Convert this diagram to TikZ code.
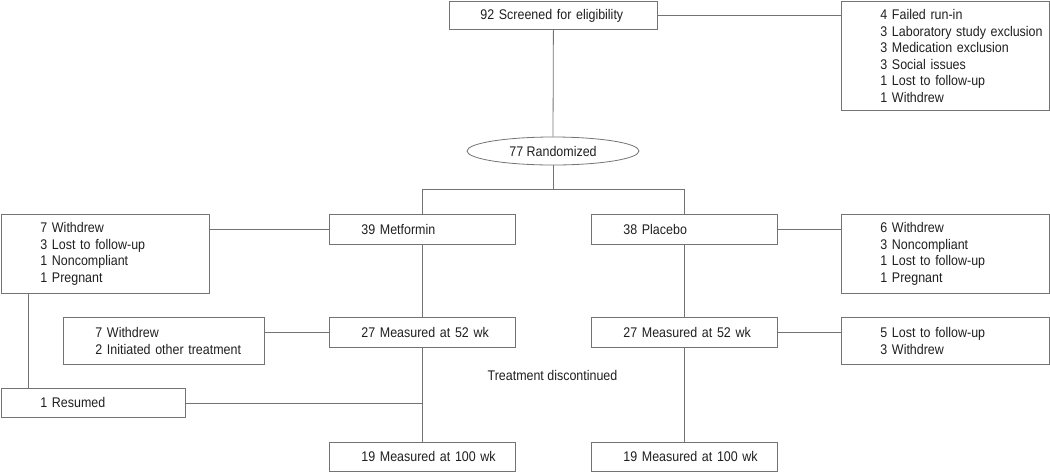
\documentclass[tikz,border=0pt]{standalone}
\usepackage{fontspec}
\setmainfont{Liberation Sans}[FakeStretch=0.89]
\usetikzlibrary{shapes.geometric}
\definecolor{lc}{gray}{0.45}
\definecolor{tc}{gray}{0.12}
\tikzset{
  base/.style={draw=lc, line width=0.8pt, text=tc, font={\fontsize{14}{16.5}\selectfont}},
  box/.style args={#1/#2/#3}{base, rectangle, inner xsep=0pt, inner ysep=0pt,
    text width=#1, minimum height=#2, align=left, anchor=north west,
    execute at begin node={\leftskip=#3\relax}},
  conn/.style={draw=lc, line width=0.8pt},
}
\begin{document}
\begin{tikzpicture}[x=1pt, y=-1pt]
\useasboundingbox (0,0) rectangle (1050,472);
\node[box=208pt/28pt/31pt] (scr) at (449,1) {92 Screened for eligibility};
\node[box=208pt/109pt/39pt] (exc) at (841,1) {4 Failed run-in\\3 Laboratory study exclusion\\3 Medication exclusion\\3 Social issues\\1 Lost to follow-up\\1 Withdrew};
\node[base, ellipse, inner sep=0pt, minimum width=172pt, minimum height=28pt] (ran) at (553,151) {77 Randomized};
\coordinate (j) at (553,189);
\node[box=186pt/30pt/32pt] (met) at (329,214) {39 Metformin};
\node[box=186pt/30pt/32pt] (pla) at (591,214) {38 Placebo};
\node[box=208pt/79pt/39pt] (lw) at (1,214) {7 Withdrew\\3 Lost to follow-up\\1 Noncompliant\\1 Pregnant};
\node[box=208pt/79pt/39pt] (rw) at (841,214) {6 Withdrew\\3 Noncompliant\\1 Lost to follow-up\\1 Pregnant};
\node[box=186pt/30pt/32pt] (m52) at (329,317) {27 Measured at 52 wk};
\node[box=186pt/30pt/32pt] (p52) at (591,317) {27 Measured at 52 wk};
\node[box=201pt/47pt/32pt] (lw2) at (63,317) {7 Withdrew\\2 Initiated other treatment};
\node[box=208pt/47pt/39pt] (rw2) at (841,317) {5 Lost to follow-up\\3 Withdrew};
\node[box=184pt/29pt/39pt] (res) at (1,388) {1 Resumed};
\node[box=186pt/29pt/32pt] (m100) at (329,442) {19 Measured at 100 wk};
\node[box=186pt/29pt/32pt] (p100) at (591,442) {19 Measured at 100 wk};
\node[text=tc, font={\fontsize{14}{16.5}\selectfont}, inner sep=0pt] (td) at (552.5,375) {Treatment discontinued};
% connectors
\draw[conn] (scr.east) -- (scr.east -| exc.west);
\draw[conn] (scr.south) -- (ran.north);
\draw[conn] (ran.south) -- (j);
\draw[conn] (met.north) -- (met.north |- j) -- (pla.north |- j) -- (pla.north);
\draw[conn] (met.west) -- (met.west -| lw.east);
\draw[conn] (pla.east) -- (pla.east -| rw.west);
\draw[conn] (met.south) -- (m52.north);
\draw[conn] (pla.south) -- (p52.north);
\draw[conn] (m52.west) -- (m52.west -| lw2.east);
\draw[conn] (p52.east) -- (p52.east -| rw2.west);
\draw[conn] (m52.south) -- (m100.north);
\draw[conn] (p52.south) -- (p100.north);
\draw[conn] ([xshift=27pt]lw.south west) -- ([xshift=27pt]res.north west);
\draw[conn] (res.east) -- (res.east -| m52.south);
\end{tikzpicture}
\end{document}
